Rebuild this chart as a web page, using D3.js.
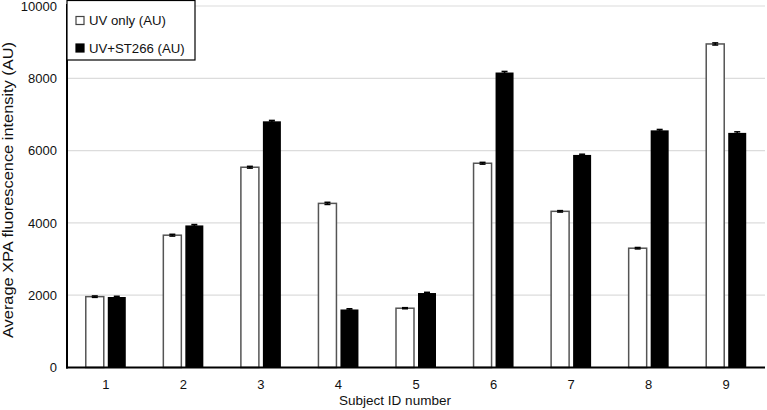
<!DOCTYPE html>
<html><head><meta charset="utf-8">
<script src="https://cdn.jsdelivr.net/npm/d3@7"></script>
<style>body{margin:0;background:#fff}svg{display:block;font-family:"Liberation Sans",Arial,sans-serif}</style>
</head><body><svg id="c" width="767" height="410"></svg>
<script>
const categories = ["1","2","3","4","5","6","7","8","9"];
const uvOnly   = [1960, 3660, 5540, 4540, 1640, 5650, 4320, 3300, 8950];
const uvST266  = [1950, 3930, 6810, 1605, 2060, 8160, 5880, 6560, 6490];
const uvOnlyErr  = [20, 25, 25, 30, 15, 25, 20, 20, 30];
const uvST266Err = [20, 25, 25, 20, 20, 30, 20, 25, 30];
const yTicks = [0, 2000, 4000, 6000, 8000, 10000];
const seriesNames = ["UV only (AU)", "UV+ST266 (AU)"];

const svg = d3.select("#c");
const m = {l:67, r:2, t:6, b:42};
const x = d3.scaleBand().domain(categories).range([m.l, 765]).paddingInner(0).paddingOuter(0);
const y = d3.scaleLinear().domain([0, 10000]).range([367.5, 6]);
const FF = "Liberation Sans, Arial, sans-serif";

// grid
svg.append("g").selectAll("line").data(yTicks.filter(d=>d>0)).join("line")
  .attr("x1", m.l).attr("x2", 765).attr("y1", d=>y(d)).attr("y2", d=>y(d))
  .attr("stroke", "#dcdcdc").attr("stroke-width", 1.2);

// y tick labels
const yAxis = d3.axisLeft(y).tickValues(yTicks).tickSize(0).tickPadding(10).tickFormat(d3.format("d"));
const ya = svg.append("g").attr("transform", `translate(${m.l},0)`).call(yAxis);
ya.select(".domain").remove();
ya.selectAll("text").attr("font-size", 13).attr("fill", "#111").style("font-family",FF);

// x tick labels
const xAxis = d3.axisBottom(x).tickSize(0).tickPadding(12);
const xa = svg.append("g").attr("transform", `translate(0,${y(0)})`).call(xAxis);
xa.select(".domain").remove();
xa.selectAll("text").attr("font-size", 13).attr("fill", "#111").style("font-family",FF);

const bw = 18, gap = 4;
const data = categories.map((c,i)=>({c, a:uvOnly[i], b:uvST266[i], ea:uvOnlyErr[i], eb:uvST266Err[i]}));
const g = svg.append("g");
g.selectAll("rect.a").data(data).join("rect").attr("class","a")
  .attr("x", d=>x(d.c)+x.bandwidth()/2 - gap/2 - bw)
  .attr("y", d=>y(d.a)).attr("width", bw).attr("height", d=>y(0)-y(d.a))
  .attr("fill","#fff").attr("stroke","#555").attr("stroke-width",1.5);
g.selectAll("rect.b").data(data).join("rect").attr("class","b")
  .attr("x", d=>x(d.c)+x.bandwidth()/2 + gap/2)
  .attr("y", d=>y(d.b)).attr("width", bw).attr("height", d=>y(0)-y(d.b))
  .attr("fill","#000");

function err(cls, valKey, errKey, off){
  const eg = g.selectAll("g."+cls).data(data).join("g").attr("class",cls);
  const cx = d=>x(d.c)+x.bandwidth()/2 + off;
  eg.append("line").attr("x1",cx).attr("x2",cx).attr("y1",d=>y(d[valKey]-d[errKey])).attr("y2",d=>y(d[valKey]+d[errKey])).attr("stroke","#000").attr("stroke-width",1.5);
  eg.append("line").attr("x1",d=>cx(d)-3).attr("x2",d=>cx(d)+3).attr("y1",d=>y(d[valKey]+d[errKey])).attr("y2",d=>y(d[valKey]+d[errKey])).attr("stroke","#000").attr("stroke-width",1.5);
  eg.append("line").attr("x1",d=>cx(d)-3).attr("x2",d=>cx(d)+3).attr("y1",d=>y(d[valKey]-d[errKey])).attr("y2",d=>y(d[valKey]-d[errKey])).attr("stroke","#000").attr("stroke-width",1.5);
}
err("ea","a","ea", -gap/2 - bw/2);
err("eb","b","eb", gap/2 + bw/2);

// axis lines
svg.append("line").attr("x1",m.l).attr("x2",m.l).attr("y1",4).attr("y2",y(0)+1).attr("stroke","#000").attr("stroke-width",2);
svg.append("line").attr("x1",m.l-1).attr("x2",765).attr("y1",y(0)).attr("y2",y(0)).attr("stroke","#000").attr("stroke-width",2);

// legend
const lg = svg.append("g");
lg.append("rect").attr("x",67).attr("y",0.5).attr("width",128).attr("height",59.5).attr("fill","#fff").attr("stroke","#000").attr("stroke-width",1.2);
const ly = [20.5, 48];
seriesNames.forEach((n,i)=>{
  lg.append("rect").attr("x",76).attr("y",ly[i]-4).attr("width",8).attr("height",8)
    .attr("fill", i===0?"#fff":"#000").attr("stroke", i===0?"#444":"#000").attr("stroke-width",1.2);
  lg.append("text").attr("x",89).attr("y",ly[i]).attr("dy","0.35em").attr("font-size",13.2).attr("fill","#111").text(n);
});

// titles
svg.append("text").attr("x",395).attr("y",405).attr("text-anchor","middle").attr("font-size",13.5).attr("fill","#111").text("Subject ID number");
svg.append("text").attr("transform",`translate(12.5,190) rotate(-90)`).attr("text-anchor","middle").attr("font-size",14)
  .attr("textLength",296).attr("lengthAdjust","spacingAndGlyphs").attr("fill","#111").text("Average XPA fluorescence intensity (AU)");
</script></body></html>
